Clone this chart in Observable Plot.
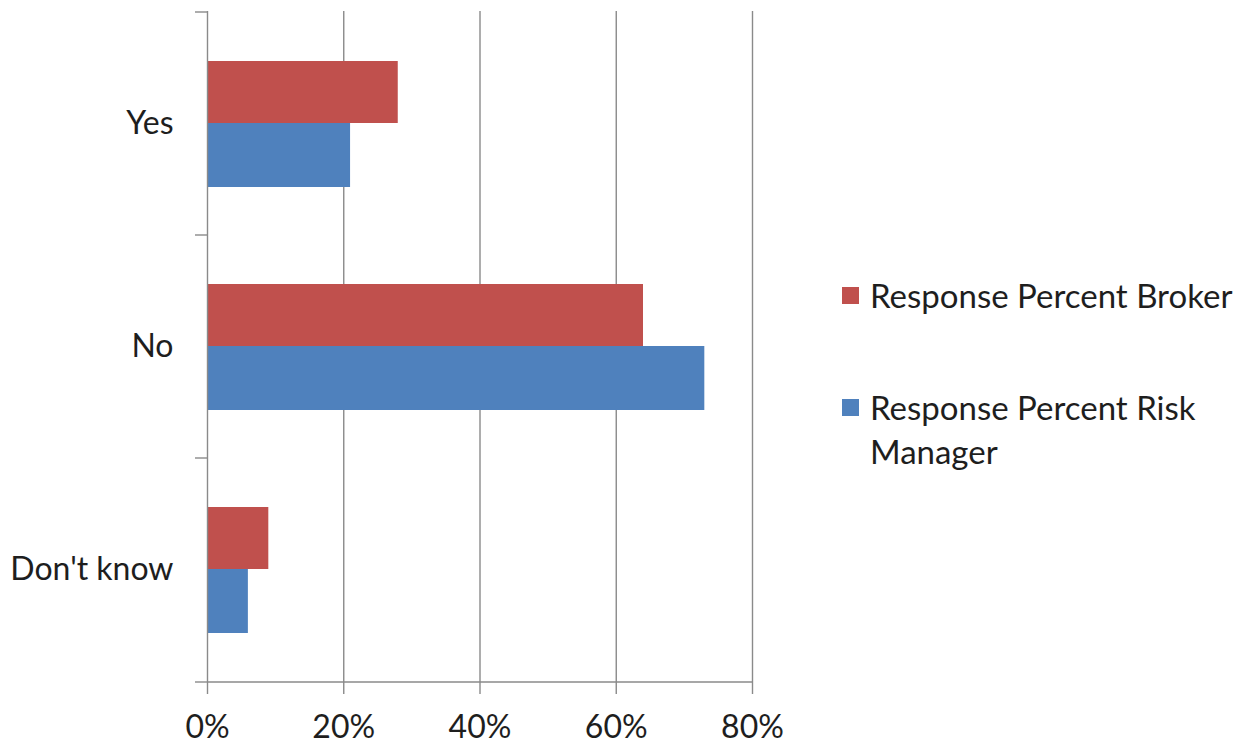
<!DOCTYPE html>
<html>
<head>
<meta charset="utf-8">
<script src="https://cdn.jsdelivr.net/npm/d3@7"></script>
<script src="https://cdn.jsdelivr.net/npm/@observablehq/plot@0.6"></script>
<style>
  html, body { margin: 0; padding: 0; background: #fff; overflow: hidden; }
  #chart { position: relative; width: 1237px; height: 744px; overflow: hidden; font-family: Lato, "Open Sans", sans-serif; }
  #legend { position: absolute; left: 842px; top: 273px; font-size: 33px; color: #1e1e1e; line-height: 44px; }
  .item { display: flex; align-items: flex-start; margin-bottom: 68px; width: 398px; }
  .swatch { width: 17px; height: 17px; margin-right: 11px; margin-top: 14px; flex: none; }
</style>
</head>
<body>
<div id="chart"></div>
<script>
// Survey answers, one entry per category
const categories = ["Yes", "No", "Don't know"];
const seriesNames = ["Response Percent Broker", "Response Percent Risk Manager"];
const brokerValues = [0.28, 0.64, 0.09];
const riskManagerValues = [0.21, 0.73, 0.06];
const xTicks = [0, 0.2, 0.4, 0.6, 0.8];
const seriesColors = ["#C0504D", "#4F81BD"];

const broker = categories.map((c, i) => ({category: c, series: seriesNames[0], value: brokerValues[i]}));
const riskManager = categories.map((c, i) => ({category: c, series: seriesNames[1], value: riskManagerValues[i]}));

const axisColor = "#8a8a8a";

// Short ticks on the category axis, drawn at the band boundaries, plus the bottom axis line
function categoryBoundaries(index, scales, values, dims) {
  const g = d3.create("svg:g").attr("stroke", axisColor).attr("stroke-width", 1.4);
  const x0 = scales.x(0);
  const x1 = scales.x(xTicks[xTicks.length - 1]);
  const bottom = dims.height - dims.marginBottom;
  const ys = categories.map(c => scales.y(c)).concat([bottom]);
  for (const y of ys) {
    g.append("line").attr("x1", x0 - 12).attr("x2", x0).attr("y1", y).attr("y2", y);
  }
  g.append("line").attr("x1", x0).attr("x2", x1).attr("y1", bottom).attr("y2", bottom);
  return g.node();
}

const chart = Plot.plot({
  width: 1237,
  height: 744,
  marginLeft: 207,
  marginRight: 485,
  marginTop: 11,
  marginBottom: 62,
  style: {fontFamily: "Lato, 'Open Sans', sans-serif", fontSize: "32px", color: "#1e1e1e", background: "#fff"},
  x: {domain: [0, 0.8]},
  y: {domain: categories, padding: 0},
  marks: [
    Plot.gridX(xTicks.slice(1), {stroke: axisColor, strokeOpacity: 1, strokeWidth: 1.4}),
    Plot.barX(broker, {y: "category", x: "value", fill: seriesColors[0], insetTop: 49, insetBottom: 112}),
    Plot.barX(riskManager, {y: "category", x: "value", fill: seriesColors[1], insetTop: 111, insetBottom: 48}),
    Plot.ruleX([0], {stroke: axisColor, strokeWidth: 1.4}),
    categoryBoundaries,
    Plot.axisX(xTicks, {tickFormat: d3.format(".0%"), tickSize: 12, tickPadding: 21, stroke: axisColor, strokeWidth: 1.4, fontSize: 32, label: null}),
    Plot.axisY({tickSize: 0, tickPadding: 34, fontSize: 32, label: null})
  ]
});

const root = document.getElementById("chart");
root.appendChild(chart);

// Legend to the right of the plot
const legend = document.createElement("div");
legend.id = "legend";
seriesNames.forEach((name, i) => {
  const item = document.createElement("div");
  item.className = "item";
  const sw = document.createElement("span");
  sw.className = "swatch";
  sw.style.background = seriesColors[i];
  const label = document.createElement("span");
  label.textContent = name;
  item.appendChild(sw);
  item.appendChild(label);
  legend.appendChild(item);
});
root.appendChild(legend);
</script>
</body>
</html>
